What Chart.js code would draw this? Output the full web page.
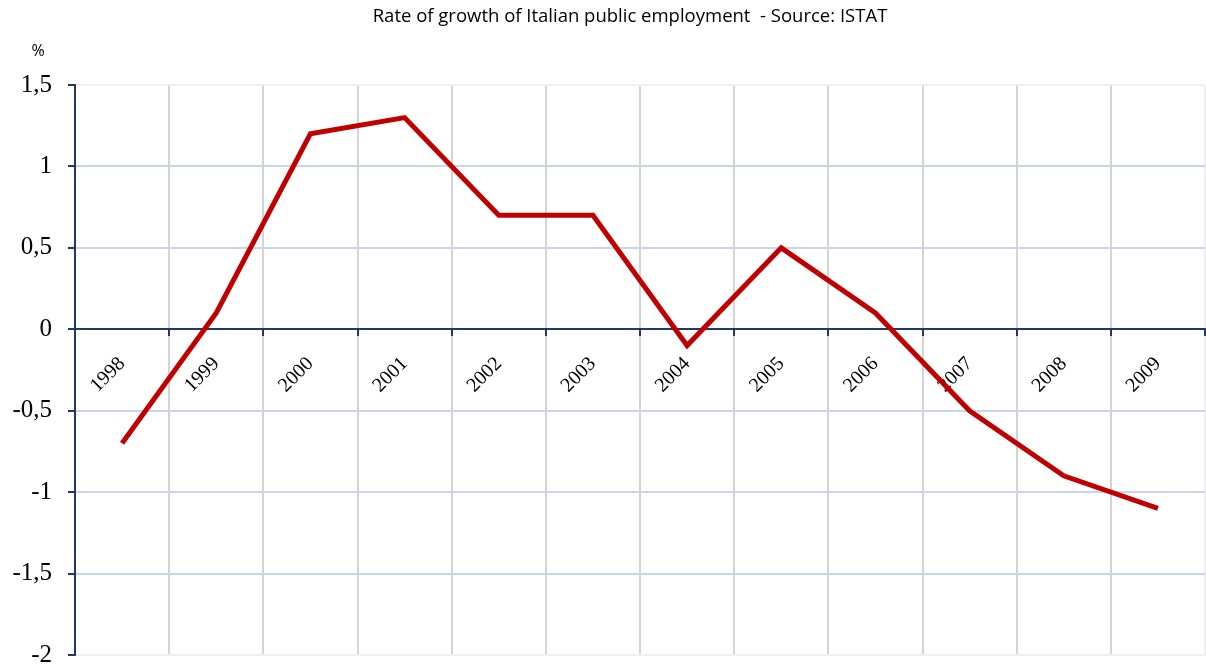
<!DOCTYPE html>
<html>
<head>
<meta charset="utf-8">
<script src="https://cdn.jsdelivr.net/npm/chart.js@4/dist/chart.umd.min.js"></script>
<style>
  html, body { margin: 0; padding: 0; background: #ffffff; }
  #wrap { width: 1206px; height: 670px; position: relative; }
</style>
</head>
<body>
<div id="wrap"><canvas id="chart"></canvas></div>
<script>
// Annual rate of growth of Italian public employment (%), source ISTAT
const years = ['1998', '1999', '2000', '2001', '2002', '2003', '2004', '2005', '2006', '2007', '2008', '2009'];
const growthRate = [-0.7, 0.1, 1.2, 1.3, 0.7, 0.7, -0.1, 0.5, 0.1, -0.5, -0.9, -1.1];
const yMin = -2;
const yMax = 1.5;
const yStep = 0.5;
const titleText = 'Rate of growth of Italian public employment  - Source: ISTAT';
const unitText = '%';

const NAVY = '#1f3864';

// Title and unit label drawn above the plot area
const headerPlugin = {
  id: 'header',
  afterDraw(chart) {
    const ctx = chart.ctx;
    const area = chart.chartArea;
    ctx.save();
    ctx.fillStyle = '#000000';
    ctx.textBaseline = 'middle';
    ctx.textAlign = 'center';
    ctx.font = '18.5px "Open Sans"';
    ctx.fillText(titleText, (area.left + area.right) / 2 - 10, 17);
    ctx.font = '16px "Open Sans"';
    ctx.fillText(unitText, 38, 51);
    ctx.restore();
  }
};

new Chart(document.getElementById('chart'), {
  type: 'line',
  data: {
    labels: years,
    datasets: [{
      data: growthRate,
      borderColor: '#c00000',
      borderWidth: 5,
      pointRadius: 0,
      tension: 0,
      fill: false
    }]
  },
  options: {
    responsive: true,
    maintainAspectRatio: false,
    animation: false,
    layout: { padding: { top: 85, right: 1, bottom: 15, left: 0 } },
    plugins: {
      legend: { display: false },
      title: { display: false },
      tooltip: { enabled: false }
    },
    scales: {
      x: {
        type: 'category',
        position: { y: 0 },
        offset: true,
        afterFit(scale) { scale.height = 0; },
        grid: {
          offset: true,
          color: (c) => (c.type === 'scale' ? '#eeeeee' : '#d4d4d4'),
          lineWidth: 2,
          tickColor: NAVY,
          tickLength: 6,
          drawOnChartArea: true
        },
        border: { display: true, color: NAVY, width: 2 },
        ticks: {
          autoSkip: false,
          minRotation: 45,
          maxRotation: 45,
          padding: 17,
          color: '#000000',
          font: { family: '"Liberation Serif"', size: 20 }
        }
      },
      y: {
        min: yMin,
        max: yMax,
        afterFit(scale) {
          scale.width = 75;
          scale.paddingTop = 0;
          scale.paddingBottom = 0;
        },
        grid: {
          color: (c) => (c.tick && (c.tick.value === yMax || c.tick.value === yMin) ? '#f0f0f0' : '#c9d5ea'),
          lineWidth: 2,
          tickColor: NAVY,
          tickLength: 7
        },
        border: { display: true, color: NAVY, width: 2 },
        ticks: {
          stepSize: yStep,
          padding: 16,
          color: '#000000',
          font: { family: '"Liberation Serif"', size: 25 },
          callback: (v) => String(v).replace('.', ',')
        }
      }
    }
  },
  plugins: [headerPlugin]
});
</script>
</body>
</html>
